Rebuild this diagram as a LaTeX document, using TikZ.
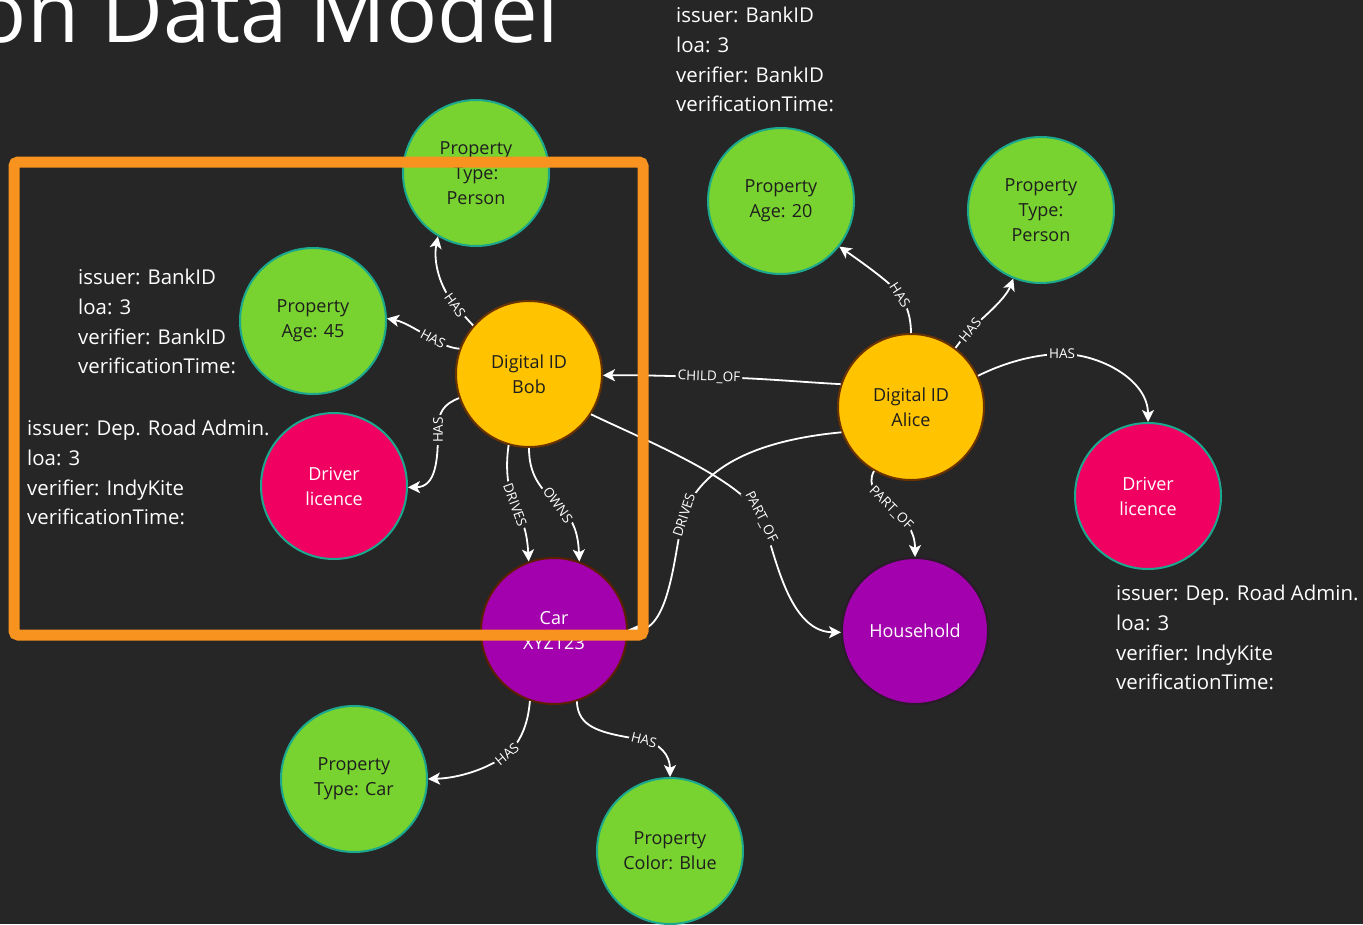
\documentclass[tikz,border=0pt]{standalone}
\usepackage{fontspec}
\setmainfont{Open Sans}
\usetikzlibrary{arrows.meta}
\definecolor{bg}{HTML}{262626}
\definecolor{cgreen}{HTML}{78D22F}
\definecolor{cteal}{HTML}{1BA88F}
\definecolor{cpink}{HTML}{F00060}
\definecolor{cyellow}{HTML}{FFC300}
\definecolor{cbrown}{HTML}{6B3300}
\definecolor{cpurple}{HTML}{A300AE}
\definecolor{cdarkbrown}{HTML}{5C1F00}
\definecolor{chh}{HTML}{2A1A2A}
\definecolor{corange}{HTML}{F7931E}
\definecolor{ctext}{HTML}{1E1E1E}
\tikzset{
  circ/.style={circle, minimum size=146pt, inner sep=0pt, line width=2pt, align=center, font=\fontsize{18}{25}\selectfont},
  prop/.style={circ, fill=cgreen, draw=cteal, text=ctext},
  lic/.style={circ, fill=cpink, draw=cteal, text=white},
  did/.style={circ, fill=cyellow, draw=cbrown, text=ctext},
  obj/.style={circ, fill=cpurple, draw=cdarkbrown, text=white},
  rel/.style={draw=white, line width=1.8pt, -{Stealth[length=12pt,width=12pt,inset=3pt]}},
  lbl/.style={fill=bg, text=white, inner sep=2pt, font=\fontsize{13.5}{13.5}\selectfont},
  note/.style={text=white, align=left, inner sep=0pt, anchor=north west, font=\fontsize{20.4}{29.7}\selectfont},
  hilite/.style={draw=corange, line width=11pt, rounded corners=4pt}
}
\begin{document}
\begin{tikzpicture}[x=1pt,y=-1pt]
\useasboundingbox (0,0) rectangle (1363,924);
\clip (0,0) rectangle (1363,924);
\fill[bg] (0,0) rectangle (1363,924);

% title
\node[anchor=base west, text=white, inner sep=0pt, font=\fontsize{85}{85}\selectfont] (title) at (-24.5,42) {on Data Model};

% annotations
\node[note] (noteA) at (676,7) {issuer: BankID\\loa: 3\\verifier: BankID\\verificationTime:};
\node[note] (noteB) at (78,269) {issuer: BankID\\loa: 3\\verifier: BankID\\verificationTime:};
\node[note] (noteC) at (27,420) {issuer: Dep. Road Admin.\\loa: 3\\verifier: IndyKite\\verificationTime:};
\node[note] (noteD) at (1116,585) {issuer: Dep. Road Admin.\\loa: 3\\verifier: IndyKite\\verificationTime:};

% nodes
\node[prop] (pTypeBob) at (476,173) {Property\\Type:\\Person};
\node[prop] (pAgeBob) at (313,321) {\raisebox{-2pt}{Property}\\\raisebox{-2pt}{Age: 45}};
\node[lic] (dlBob) at (334,486) {Driver\\licence};
\node[did] (bob) at (529,374) {Digital ID\\Bob};
\node[obj] (car) at (554,631) {Car\\XYZ123};
\node[prop] (pTypeCar) at (354,779) {Property\\Type: Car};
\node[prop] (pColor) at (670,851) {Property\\Color: Blue};
\node[obj, draw=chh] (household) at (915,631) {Household};
\node[did] (alice) at (911,407) {Digital ID\\Alice};
\node[prop] (pAgeAlice) at (781,201) {\raisebox{-2pt}{Property}\\\raisebox{-2pt}{Age: 20}};
\node[prop] (pTypeAlice) at (1041,210) {Property\\Type:\\Person};
\node[lic] (dlAlice) at (1148,496) {Driver\\licence};

% connectors
\draw[rel] (bob.139) .. controls (466,318) and (462,313) .. (455,305)
  node[lbl, rotate=-55] (l1) {HAS} .. controls (440,288) and (433,262) .. (pTypeBob.-121);
\draw[rel] (bob.160) .. controls (450,348) and (442,344) .. (433,339)
  node[lbl, rotate=-28] (l2) {HAS} .. controls (420,332) and (405,322) .. (pAgeBob.2);
\draw[rel] (bob.199) .. controls (444,404) and (438,412) .. (438,430)
  node[lbl, rotate=90] (l3) {HAS} .. controls (438,460) and (436,487) .. (dlBob.-1);
\draw[rel] (bob.-106) .. controls (505,470) and (508,490) .. (515,505)
  node[lbl, rotate=-70] (l4) {DRIVES} .. controls (522,520) and (527,530) .. (car.110);
\draw[rel] (bob.-90) .. controls (529,475) and (540,488) .. (558,505)
  node[lbl, rotate=-55] (l5) {OWNS} .. controls (572,518) and (578,530) .. (car.70);
\draw[rel] (alice.162) .. controls (800,382) and (760,378) .. (709,377)
  node[lbl, rotate=-2] (l6) {CHILD\_OF} .. controls (670,376) and (640,375) .. (bob.-1);
\draw[rel] (bob.-33) .. controls (640,438) and (740,478) .. (761,517)
  node[lbl, rotate=-63] (l7) {PART\_OF} .. controls (773,540) and (785,632) .. (household.181);
\draw[rel] (alice.-120) .. controls (866,485) and (878,498) .. (891,508)
  node[lbl, rotate=-45] (l8) {PART\_OF} .. controls (905,520) and (915,530) .. (household.90);
\draw[rel] (alice.200) .. controls (760,440) and (702,465) .. (684,515)
  node[lbl, rotate=72] (l9) {DRIVES} .. controls (675,540) and (672,632) .. (car.1);
\draw[rel] (alice.90) .. controls (911,318) and (907,305) .. (900,295)
  node[lbl, rotate=-57] (l10) {HAS} .. controls (893,285) and (870,268) .. (pAgeAlice.-38);
\draw[rel] (alice.53) .. controls (960,342) and (964,336) .. (970,330)
  node[lbl, rotate=50] (l11) {HAS} .. controls (980,320) and (1005,300) .. (pTypeAlice.-112);
\draw[rel] (alice.25) .. controls (1010,360) and (1040,354) .. (1062,354)
  node[lbl] (l12) {HAS} .. controls (1100,354) and (1148,380) .. (dlAlice.90);
\draw[rel] (car.-109) .. controls (528,725) and (520,743) .. (507,754)
  node[lbl, rotate=40] (l13) {HAS} .. controls (490,768) and (460,778) .. (pTypeCar.0);
\draw[rel] (car.-72) .. controls (578,728) and (600,733) .. (644,740)
  node[lbl, rotate=-14] (l14) {HAS} .. controls (660,744) and (670,755) .. (pColor.90);

% highlight box
\draw[hilite] (14,162) rectangle (643,635);
\end{tikzpicture}
\end{document}
